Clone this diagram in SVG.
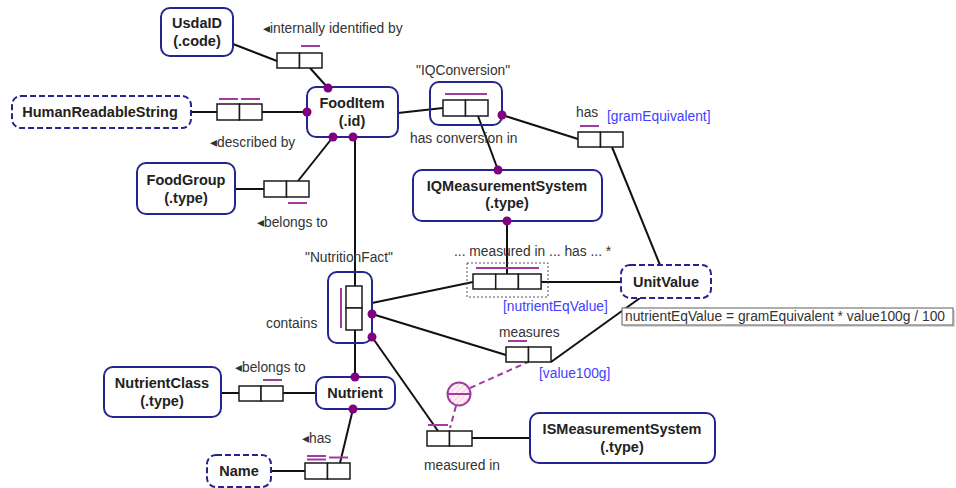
<svg xmlns="http://www.w3.org/2000/svg" width="956" height="488" viewBox="0 0 956 488">
  <defs>
    <style>
      .ent { fill: #ffffff; stroke: #25258f; stroke-width: 2; }
      .val { fill: #ffffff; stroke: #25258f; stroke-width: 2; stroke-dasharray: 6 3; }
      .nest { fill: none; stroke: #25258f; stroke-width: 2; }
      .role { fill: #ffffff; stroke: #1a1a1a; stroke-width: 1.5; }
      .uc { stroke: #a03ca0; stroke-width: 2; fill: none; }
      .dot { fill: #800080; }
      .ln { stroke: #111111; stroke-width: 2; fill: none; }
      .sub { stroke: #a03ca0; stroke-width: 2; fill: none; stroke-dasharray: 6 4; }
      .name { font-family: "Liberation Sans", Arial, sans-serif; font-size: 14.5px; font-weight: bold; fill: #222222; text-anchor: middle; }
      .lbl { font-family: "Liberation Sans", Arial, sans-serif; font-size: 13.8px; fill: #333333; }
      .rn { font-family: "Liberation Sans", Arial, sans-serif; font-size: 13.8px; fill: #4040ff; }
    </style>
    <pattern id="hatch" width="4" height="4" patternUnits="userSpaceOnUse" patternTransform="rotate(45)">
      <rect width="4" height="4" fill="#fdf0f4"/>
      <line x1="0" y1="0" x2="0" y2="4" stroke="#f3c6d6" stroke-width="1.5"/>
    </pattern>
  </defs>

  <rect width="956" height="488" fill="#ffffff"/>

  <!-- connectors -->
  <g id="connectors">
    <line class="ln" x1="233" y1="44" x2="277" y2="61"/>
    <line class="ln" x1="310" y1="68" x2="328" y2="88"/>
    <line class="ln" x1="191" y1="112" x2="217" y2="112"/>
    <line class="ln" x1="262" y1="112" x2="307" y2="112"/>
    <line class="ln" x1="235" y1="189" x2="264" y2="189"/>
    <line class="ln" x1="298" y1="181" x2="333" y2="137"/>
    <line class="ln" x1="355" y1="137" x2="355" y2="286"/>
    <line class="ln" x1="355" y1="330" x2="355" y2="377"/>
    <line class="ln" x1="398" y1="113" x2="443" y2="108"/>
    <line class="ln" x1="478" y1="116" x2="498" y2="170"/>
    <line class="ln" x1="502" y1="115" x2="578" y2="139"/>
    <line class="ln" x1="612" y1="147" x2="660" y2="265"/>
    <line class="ln" x1="507" y1="221" x2="507" y2="274"/>
    <line class="ln" x1="372" y1="303" x2="473" y2="282"/>
    <line class="ln" x1="541" y1="282" x2="621" y2="282"/>
    <line class="ln" x1="372" y1="314" x2="506" y2="355"/>
    <line class="ln" x1="551" y1="362" x2="640" y2="298"/>
    <line class="ln" x1="372" y1="337" x2="438" y2="431"/>
    <line class="ln" x1="472" y1="438" x2="530" y2="438"/>
    <line class="ln" x1="221" y1="393" x2="239" y2="393"/>
    <line class="ln" x1="283" y1="393" x2="316" y2="393"/>
    <line class="ln" x1="271" y1="471" x2="305" y2="471"/>
    <line class="ln" x1="340" y1="463" x2="353" y2="409"/>
    <!-- subset constraint -->
    <line class="sub" x1="470" y1="388" x2="528" y2="362"/>
    <line class="sub" x1="456" y1="406" x2="450" y2="428"/>
  </g>

  <!-- entity types -->
  <g id="UsdaID">
    <rect class="ent" x="161" y="8" width="72" height="48" rx="9"/>
    <text class="name" x="197" y="28">UsdaID</text>
    <text class="name" x="197" y="46">(.code)</text>
  </g>

  <g id="FoodItem">
    <rect class="ent" x="307" y="87" width="91" height="50" rx="9"/>
    <text class="name" x="352" y="108">FoodItem</text>
    <text class="name" x="352" y="126">(.id)</text>
    <circle class="dot" cx="328" cy="88" r="4.5"/>
    <circle class="dot" cx="307" cy="112" r="4.5"/>
    <circle class="dot" cx="333" cy="137" r="4.5"/>
    <circle class="dot" cx="353" cy="137" r="4.5"/>
  </g>

  <g id="HumanReadableString">
    <rect class="val" x="12" y="96" width="179" height="32" rx="9"/>
    <text class="name" x="100" y="117">HumanReadableString</text>
  </g>

  <g id="FoodGroup">
    <rect class="ent" x="137" y="163" width="98" height="51" rx="9"/>
    <text class="name" x="186" y="185">FoodGroup</text>
    <text class="name" x="186" y="203">(.type)</text>
  </g>

  <g id="IQMeasurementSystem">
    <rect class="ent" x="413" y="170" width="189" height="51" rx="9"/>
    <text class="name" x="507" y="191">IQMeasurementSystem</text>
    <text class="name" x="507" y="208">(.type)</text>
    <circle class="dot" cx="498" cy="170" r="4.5"/>
    <circle class="dot" cx="507" cy="221" r="4.5"/>
  </g>

  <g id="UnitValue">
    <rect class="val" x="621" y="265" width="90" height="33" rx="9"/>
    <text class="name" x="666" y="287">UnitValue</text>
  </g>

  <g id="NutrientClass">
    <rect class="ent" x="104" y="367" width="117" height="50" rx="9"/>
    <text class="name" x="162" y="388">NutrientClass</text>
    <text class="name" x="162" y="406">(.type)</text>
  </g>

  <g id="Nutrient">
    <rect class="ent" x="316" y="377" width="79" height="32" rx="9"/>
    <text class="name" x="355" y="398">Nutrient</text>
    <circle class="dot" cx="355" cy="377" r="4.5"/>
    <circle class="dot" cx="353" cy="409" r="4.5"/>
  </g>

  <g id="Name">
    <rect class="val" x="207" y="455" width="64" height="32" rx="9"/>
    <text class="name" x="239" y="476">Name</text>
  </g>

  <g id="ISMeasurementSystem">
    <rect class="ent" x="530" y="413" width="185" height="50" rx="9"/>
    <text class="name" x="622" y="434">ISMeasurementSystem</text>
    <text class="name" x="622" y="452">(.type)</text>
  </g>

  <!-- fact types -->
  <g id="fact-identifiedBy">
    <rect class="role" x="277" y="53" width="22.5" height="15"/>
    <rect class="role" x="299.5" y="53" width="22.5" height="15"/>
    <line class="uc" x1="301" y1="46" x2="320" y2="46"/>
    <text class="lbl" x="263" y="33">◂internally identified by</text>
  </g>

  <g id="fact-describedBy">
    <rect class="role" x="217" y="104" width="22.5" height="16"/>
    <rect class="role" x="239.5" y="104" width="22.5" height="16"/>
    <line class="uc" x1="219" y1="99" x2="238" y2="99"/>
    <line class="uc" x1="241" y1="99" x2="260" y2="99"/>
    <text class="lbl" x="210" y="147">◂described by</text>
  </g>

  <g id="fact-belongsToGroup">
    <rect class="role" x="264" y="181" width="22.5" height="16"/>
    <rect class="role" x="286.5" y="181" width="22.5" height="16"/>
    <line class="uc" x1="288" y1="203" x2="307" y2="203"/>
    <text class="lbl" x="257" y="227">◂belongs to</text>
  </g>

  <g id="IQConversion">
    <rect class="nest" x="430" y="82" width="72" height="43" rx="9"/>
    <rect class="role" x="443" y="100" width="22.5" height="16"/>
    <rect class="role" x="465.5" y="100" width="22.5" height="16"/>
    <line class="uc" x1="445" y1="94" x2="487" y2="94"/>
    <circle class="dot" cx="502" cy="115" r="4.5"/>
    <text class="lbl" x="416" y="75">"IQConversion"</text>
    <text class="lbl" x="410" y="143">has conversion in</text>
  </g>

  <g id="fact-gramEquivalent">
    <rect class="role" x="578" y="132" width="22.5" height="15"/>
    <rect class="role" x="600.5" y="132" width="22.5" height="15"/>
    <line class="uc" x1="580" y1="126" x2="599" y2="126"/>
    <text class="lbl" x="576" y="117">has</text>
    <text class="rn" x="607" y="121">[gramEquivalent]</text>
  </g>

  <g id="NutritionFact">
    <rect class="nest" x="328" y="272" width="44" height="71" rx="9"/>
    <rect class="role" x="346" y="286" width="16" height="22"/>
    <rect class="role" x="346" y="308" width="16" height="22"/>
    <line class="uc" x1="341" y1="288" x2="341" y2="328"/>
    <circle class="dot" cx="372" cy="314" r="4.5"/>
    <circle class="dot" cx="372" cy="337" r="4.5"/>
    <text class="lbl" x="305" y="262">"NutritionFact"</text>
    <text class="lbl" x="266" y="328">contains</text>
  </g>

  <g id="fact-nutrientEqValue">
    <rect x="467" y="263" width="81" height="34" fill="none" stroke="#555555" stroke-width="1" stroke-dasharray="2 2"/>
    <rect class="role" x="473" y="274" width="22.7" height="15"/>
    <rect class="role" x="495.7" y="274" width="22.7" height="15"/>
    <rect class="role" x="518.4" y="274" width="22.7" height="15"/>
    <line class="uc" x1="476" y1="268" x2="539" y2="268"/>
    <text class="lbl" x="454" y="256">... measured in ... has ... *</text>
    <text class="rn" x="503" y="311">[nutrientEqValue]</text>
  </g>

  <g id="derivation-note">
    <rect x="624" y="310" width="331" height="17" fill="#d8d8d8"/>
    <rect x="622" y="308" width="331" height="17" fill="#ffffff" stroke="#777777" stroke-width="1.2"/>
    <text class="lbl" x="625" y="321" fill="#222222">nutrientEqValue = gramEquivalent * value100g / 100</text>
  </g>

  <g id="fact-measures">
    <rect class="role" x="506" y="347" width="22.5" height="15"/>
    <rect class="role" x="528.5" y="347" width="22.5" height="15"/>
    <line class="uc" x1="508" y1="341" x2="527" y2="341"/>
    <text class="lbl" x="499" y="337">measures</text>
    <text class="rn" x="539" y="378">[value100g]</text>
  </g>

  <g id="subset-constraint">
    <circle cx="459" cy="394" r="11.5" fill="url(#hatch)" stroke="#a03ca0" stroke-width="2"/>
    <line x1="447.5" y1="394" x2="470.5" y2="394" stroke="#a03ca0" stroke-width="2"/>
  </g>

  <g id="fact-measuredInIS">
    <rect class="role" x="427" y="431" width="22.5" height="15"/>
    <rect class="role" x="449.5" y="431" width="22.5" height="15"/>
    <line class="uc" x1="428" y1="425" x2="448" y2="425"/>
    <text class="lbl" x="424" y="470">measured in</text>
  </g>

  <g id="fact-belongsToClass">
    <rect class="role" x="239" y="386" width="22" height="15"/>
    <rect class="role" x="261" y="386" width="22" height="15"/>
    <line class="uc" x1="263" y1="380" x2="282" y2="380"/>
    <text class="lbl" x="235" y="372">◂belongs to</text>
  </g>

  <g id="fact-hasName">
    <rect class="role" x="305" y="463" width="22.5" height="16"/>
    <rect class="role" x="327.5" y="463" width="22.5" height="16"/>
    <line class="uc" x1="307" y1="456" x2="326" y2="456"/>
    <line class="uc" x1="307" y1="459.5" x2="326" y2="459.5"/>
    <line class="uc" x1="329" y1="457.5" x2="348" y2="457.5"/>
    <text class="lbl" x="302" y="443">◂has</text>
  </g>
</svg>
